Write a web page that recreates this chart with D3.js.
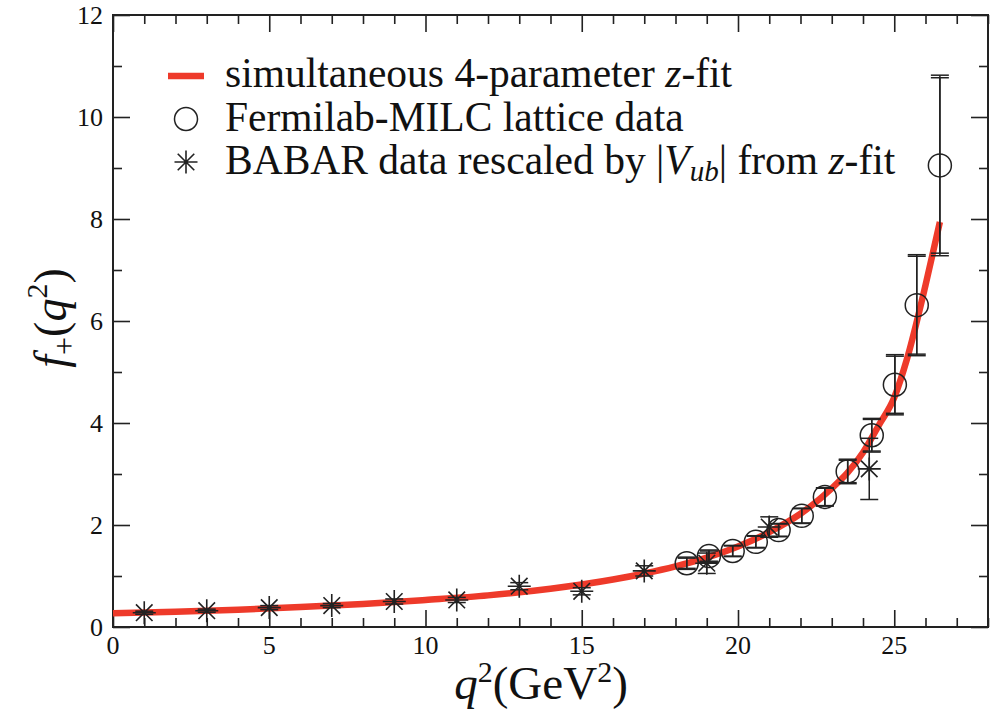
<!DOCTYPE html>
<html>
<head>
<meta charset="utf-8">
<script src="https://cdn.jsdelivr.net/npm/d3@7"></script>
<style>
  body { margin: 0; background: #fff; }
</style>
</head>
<body>
<svg id="chart" width="1002" height="712"></svg>
<script>
// z-fit curve
var fitQ2 = [0, 2, 4, 6, 8, 10, 12, 14, 16, 17, 18, 19, 20, 21, 22, 23, 23.5, 24, 24.5, 25, 25.4, 26, 26.46];
var fitF  = [0.27, 0.30, 0.34, 0.39, 0.45, 0.53, 0.62, 0.75, 0.93, 1.05, 1.19, 1.36, 1.58, 1.86, 2.22, 2.72, 3.02, 3.42, 3.95, 4.5, 5.24, 6.7, 7.94];

// Fermilab-MILC lattice points
var latQ2   = [18.36, 19.07, 19.83, 20.57, 21.3, 22.04, 22.78, 23.51, 24.28, 25.02, 25.72, 26.46];
var latF    = [1.25, 1.39, 1.49, 1.67, 1.90, 2.18, 2.55, 3.05, 3.76, 4.75, 6.31, 9.05];
var latErr  = [0.12, 0.12, 0.11, 0.12, 0.13, 0.15, 0.18, 0.24, 0.33, 0.59, 0.99, 1.77];
var latErr2 = [0.10, 0.10, 0.10, 0.11, 0.12, 0.14, 0.17, 0.22, 0.31, 0.56, 0.96, 1.72];

// BABAR rescaled points
var babarQ2  = [1, 3, 5, 7, 9, 11, 13, 15, 17, 19, 21, 24.2];
var babarF   = [0.28, 0.32, 0.38, 0.42, 0.50, 0.53, 0.80, 0.70, 1.10, 1.25, 1.96, 3.10];
var babarErr = [0.03, 0.03, 0.04, 0.04, 0.05, 0.05, 0.07, 0.07, 0.10, 0.20, 0.20, 0.60];

var legendLabels = ["simultaneous 4-parameter ", "Fermilab-MILC lattice data", "BABAR data rescaled by "];

var svg = d3.select("#chart");
var x = d3.scaleLinear().domain([0, 28]).range([113, 988]);
var y = d3.scaleLinear().domain([0, 12]).range([627, 15]);
var ink = "#222";

// frame + ticks
function ticks(axis, vals, len) {
  return axis.tickValues(vals).tickSize(len).tickFormat("");
}
var xMajor = d3.range(0, 26, 5), xMinor = d3.range(0, 29, 1).filter(d => d % 5);
var yMajor = d3.range(0, 13, 2), yMinor = d3.range(1, 12, 2);

var gx = svg.append("g").attr("transform", "translate(0," + y(0) + ")");
gx.call(ticks(d3.axisTop(x), xMajor, 17));
gx.append("g").call(ticks(d3.axisTop(x), xMinor, 9));
var gxt = svg.append("g").attr("transform", "translate(0," + y(12) + ")");
gxt.call(ticks(d3.axisBottom(x), xMajor, 17));
gxt.append("g").call(ticks(d3.axisBottom(x), xMinor, 9));
var gy = svg.append("g").attr("transform", "translate(" + x(0) + ",0)");
gy.call(ticks(d3.axisRight(y), yMajor, 17));
gy.append("g").call(ticks(d3.axisRight(y), yMinor, 9));
var gyr = svg.append("g").attr("transform", "translate(" + x(28) + ",0)");
gyr.call(ticks(d3.axisLeft(y), yMajor, 17));
gyr.append("g").call(ticks(d3.axisLeft(y), yMinor, 9));
svg.selectAll(".domain").remove();
svg.selectAll(".tick line").attr("stroke", ink).attr("stroke-width", 1.6);

svg.append("rect")
  .attr("x", x(0)).attr("y", y(12))
  .attr("width", x(28) - x(0)).attr("height", y(0) - y(12))
  .attr("fill", "none").attr("stroke", ink).attr("stroke-width", 2);

// tick labels
svg.selectAll(".xl").data(xMajor).enter().append("text")
  .attr("x", d => x(d)).attr("y", y(0) + 27)
  .attr("text-anchor", "middle").attr("font-size", 26).text(d => d);
svg.selectAll(".yl").data(yMajor).enter().append("text")
  .attr("x", x(0) - 10).attr("y", d => y(d) + 9)
  .attr("text-anchor", "end").attr("font-size", 26).text(d => d);

// axis titles
var xt = svg.append("text").attr("x", 541).attr("y", 699)
  .attr("text-anchor", "middle").attr("font-size", 47);
xt.append("tspan").attr("font-style", "italic").text("q");
xt.append("tspan").attr("font-size", 30).attr("dy", -17).text("2");
xt.append("tspan").attr("dy", 17).text("(GeV");
xt.append("tspan").attr("font-size", 30).attr("dy", -17).text("2");
xt.append("tspan").attr("dy", 17).text(")");

var yt = svg.append("text").attr("transform", "translate(66,318) rotate(-90)")
  .attr("text-anchor", "middle").attr("font-size", 46);
yt.append("tspan").attr("font-style", "italic").text("f");
yt.append("tspan").attr("font-size", 32).attr("dy", 9).text("+");
yt.append("tspan").attr("dy", -9).text("(");
yt.append("tspan").attr("font-style", "italic").text("q");
yt.append("tspan").attr("font-size", 30).attr("dy", -19).text("2");
yt.append("tspan").attr("dy", 19).text(")");

// fit curve
var fitPts = fitQ2.map((q, i) => [q, fitF[i]]);
svg.append("path").datum(fitPts)
  .attr("fill", "none").attr("stroke", "#ee3a2a").attr("stroke-width", 6.5)
  .attr("d", d3.line().x(d => x(d[0])).y(d => y(d[1])).curve(d3.curveMonotoneX));

// error bars
function errorBars(qs, fs, errs, capW) {
  var g = svg.append("g").attr("stroke", ink).attr("stroke-width", 1.5);
  qs.forEach(function (q, i) {
    var cx = x(q), lo = y(fs[i] - errs[i]), hi = y(fs[i] + errs[i]);
    g.append("line").attr("x1", cx).attr("x2", cx).attr("y1", lo).attr("y2", hi);
    [lo, hi].forEach(function (yy) {
      g.append("line").attr("x1", cx - capW).attr("x2", cx + capW).attr("y1", yy).attr("y2", yy);
    });
  });
}
errorBars(latQ2, latF, latErr, 9);
errorBars(latQ2, latF, latErr2, 9);
errorBars(babarQ2, babarF, babarErr, 9);

// symbols
var asterisk = {
  draw: function (ctx, size) {
    var r = Math.sqrt(size) / 2, d = r * 0.72;
    ctx.moveTo(-r, 0); ctx.lineTo(r, 0);
    ctx.moveTo(0, -r); ctx.lineTo(0, r);
    ctx.moveTo(-d, -d); ctx.lineTo(d, d);
    ctx.moveTo(-d, d); ctx.lineTo(d, -d);
  }
};
svg.append("g").selectAll("circle").data(latQ2).enter().append("circle")
  .attr("cx", d => x(d)).attr("cy", (d, i) => y(latF[i])).attr("r", 11.5)
  .attr("fill", "none").attr("stroke", ink).attr("stroke-width", 1.5);
svg.append("g").selectAll("path").data(babarQ2).enter().append("path")
  .attr("transform", (d, i) => "translate(" + x(d) + "," + y(babarF[i]) + ")")
  .attr("d", d3.symbol().type(asterisk).size(23 * 23))
  .attr("fill", "none").attr("stroke", ink).attr("stroke-width", 1.6);

// legend
var lg = svg.append("g");
lg.append("line").attr("x1", 168).attr("x2", 204).attr("y1", 76).attr("y2", 76)
  .attr("stroke", "#ee3a2a").attr("stroke-width", 6.5);
lg.append("circle").attr("cx", 186).attr("cy", 119).attr("r", 11.5)
  .attr("fill", "none").attr("stroke", ink).attr("stroke-width", 1.5);
lg.append("path").attr("transform", "translate(186,162)")
  .attr("d", d3.symbol().type(asterisk).size(23 * 23))
  .attr("fill", "none").attr("stroke", ink).attr("stroke-width", 1.6);

var legendFont = 41.5;
var t1 = lg.append("text").attr("x", 225).attr("y", 87).attr("font-size", legendFont);
t1.append("tspan").text(legendLabels[0]);
t1.append("tspan").attr("font-style", "italic").text("z");
t1.append("tspan").text("-fit");
lg.append("text").attr("x", 225).attr("y", 131).attr("font-size", legendFont).text(legendLabels[1]);
var t3 = lg.append("text").attr("x", 225).attr("y", 174).attr("font-size", legendFont);
t3.append("tspan").text(legendLabels[2] + "|");
t3.append("tspan").attr("font-style", "italic").text("V");
t3.append("tspan").attr("font-style", "italic").attr("font-size", 29).attr("dy", 7).text("ub");
t3.append("tspan").attr("dy", -7).text("| from ");
t3.append("tspan").attr("font-style", "italic").text("z");
t3.append("tspan").text("-fit");

svg.selectAll("text").attr("font-family", "Liberation Serif").attr("fill", "#111");
</script>
</body>
</html>
